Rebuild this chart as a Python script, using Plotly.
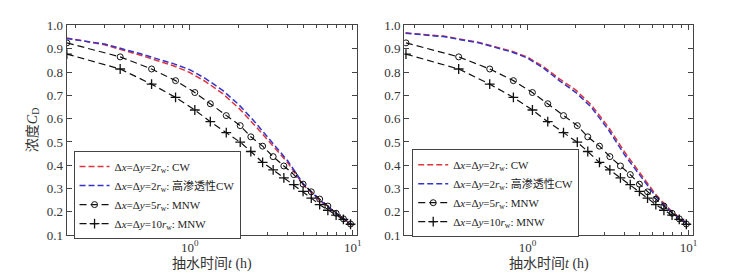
import plotly.graph_objects as go

# ---- data ----
t_cw = [0.175, 0.3, 0.5, 0.8, 1.0, 1.25, 1.6, 2.0, 2.5, 3.2, 4.0, 5.0, 6.3, 8.0, 10.0]
left_cw_red = [0.946, 0.917, 0.872, 0.826, 0.798, 0.759, 0.706, 0.645, 0.572, 0.487, 0.410, 0.314, 0.247, 0.190, 0.142]
left_cw_blue = [0.944, 0.920, 0.878, 0.835, 0.810, 0.772, 0.720, 0.660, 0.587, 0.498, 0.418, 0.318, 0.250, 0.192, 0.144]
right_cw_red = [0.968, 0.954, 0.927, 0.889, 0.864, 0.824, 0.768, 0.722, 0.658, 0.562, 0.458, 0.366, 0.272, 0.197, 0.147]
right_cw_blue = [0.966, 0.952, 0.925, 0.886, 0.860, 0.818, 0.760, 0.712, 0.648, 0.550, 0.446, 0.356, 0.264, 0.193, 0.146]

t_mnw = [0.176, 0.374, 0.583, 0.818, 1.074, 1.337, 1.675, 2.04, 2.37, 2.80, 3.25, 3.78,
         4.35, 4.96, 5.57, 6.27, 7.04, 7.91, 8.77, 9.7]
mnw5 = [0.925, 0.865, 0.813, 0.763, 0.712, 0.664, 0.613, 0.570, 0.522, 0.482, 0.437, 0.397,
        0.360, 0.319, 0.286, 0.255, 0.225, 0.194, 0.170, 0.148]
mnw10 = [0.877, 0.813, 0.748, 0.691, 0.637, 0.587, 0.540, 0.499, 0.459, 0.412, 0.380, 0.346,
         0.317, 0.288, 0.259, 0.231, 0.207, 0.186, 0.168, 0.147]

names = [
    "Δ<i>x</i>=Δ<i>y</i>=2<i>r</i><sub>w</sub>: CW",
    "Δ<i>x</i>=Δ<i>y</i>=2<i>r</i><sub>w</sub>: 高渗透性CW",
    "Δ<i>x</i>=Δ<i>y</i>=5<i>r</i><sub>w</sub>: MNW",
    "Δ<i>x</i>=Δ<i>y</i>=10<i>r</i><sub>w</sub>: MNW",
]
x_title = "抽水时间<i>t</i> (h)"
y_title = "浓度<i>C</i><sub>D</sub>"
x_tickvals = [1, 10]
x_ticktext = ["10<sup>0</sup>", "10<sup>1</sup>"]
minor_vals = [0.2, 0.3, 0.4, 0.5, 0.6, 0.7, 0.8, 0.9, 2, 3, 4, 5, 6, 7, 8, 9]
y_ticks = [0.1, 0.2, 0.3, 0.4, 0.5, 0.6, 0.7, 0.8, 0.9, 1.0]

RED = "#e0343c"
BLUE = "#3434c8"
SERIF = "Liberation Serif, Times New Roman, serif"
CJK = "Liberation Serif, Noto Sans CJK SC, serif"

fig = go.Figure()

panels = [
    ("x", "y", "legend", left_cw_red, left_cw_blue),
    ("x2", "y2", "legend2", right_cw_red, right_cw_blue),
]
for xa, ya, lg, red, blue in panels:
    fig.add_trace(go.Scatter(x=t_cw, y=red, mode="lines", name=names[0], xaxis=xa, yaxis=ya,
                             legend=lg, line=dict(color=RED, width=1.5, dash="6px,3px")))
    fig.add_trace(go.Scatter(x=t_cw, y=blue, mode="lines", name=names[1], xaxis=xa, yaxis=ya,
                             legend=lg, line=dict(color=BLUE, width=1.5, dash="6px,3px")))
    fig.add_trace(go.Scatter(x=t_mnw, y=mnw5, mode="lines+markers", name=names[2], xaxis=xa, yaxis=ya,
                             legend=lg, line=dict(color="#111", width=1.2, dash="7px,4px"),
                             marker=dict(symbol="circle-open", size=6, color="#111",
                                         line=dict(width=1.0, color="#111"))))
    fig.add_trace(go.Scatter(x=t_mnw, y=mnw10, mode="lines+markers", name=names[3], xaxis=xa, yaxis=ya,
                             legend=lg, line=dict(color="#111", width=1.2, dash="7px,4px"),
                             marker=dict(symbol="cross-thin", size=7, color="#111",
                                         line=dict(width=1.3, color="#111"))))

axis_common = dict(
    showline=True, linecolor="#444", linewidth=1.2, mirror="allticks",
    ticks="inside", tickcolor="#444", showgrid=False, zeroline=False,
    tickfont=dict(family=SERIF, size=13, color="#333"),
)

def xaxis(domain, rng, anchor):
    return dict(type="log", domain=domain, range=rng, tickmode="array", anchor=anchor,
                tickvals=x_tickvals, ticktext=x_ticktext, ticklen=5,
                minor=dict(tickmode="array", tickvals=minor_vals, ticks="inside", ticklen=3,
                           tickcolor="#444"),
                **axis_common)

def yaxis(domain, anchor):
    return dict(domain=domain, range=[0.1, 1.0], tickmode="array", tickvals=y_ticks,
                tickformat=".1f", ticklen=5, anchor=anchor, **axis_common)

legend_common = dict(xanchor="left", yanchor="top", bgcolor="white", bordercolor="#444",
                     borderwidth=1, font=dict(family=CJK, size=11, color="#222"),
                     tracegroupgap=0, itemwidth=30)

title_font = dict(family=CJK, size=14, color="#333")
ydom = [1 - 233 / 273, 1 - 11 / 273]
fig.update_layout(
    width=732, height=273,
    margin=dict(l=0, r=0, t=0, b=0),
    paper_bgcolor="white", plot_bgcolor="white",
    showlegend=True,
    xaxis=xaxis([59 / 732, 351 / 732], [-0.756, 1.024], "y"),
    xaxis2=xaxis([399 / 732, 690 / 732], [-0.765, 1.03], "y2"),
    yaxis=yaxis(ydom, "x"),
    yaxis2=yaxis(ydom, "x2"),
    legend=dict(x=66 / 732, y=1 - 144 / 273, **legend_common),
    legend2=dict(x=407 / 732, y=1 - 142 / 273, **legend_common),
    annotations=[
        dict(text=x_title, x=205 / 732, y=1 - 264 / 273, xref="paper", yref="paper",
             xanchor="center", yanchor="middle", showarrow=False, font=title_font),
        dict(text=x_title, x=545 / 732, y=1 - 264 / 273, xref="paper", yref="paper",
             xanchor="center", yanchor="middle", showarrow=False, font=title_font),
        dict(text=y_title, x=25 / 732, y=1 - 122 / 273, xref="paper", yref="paper",
             xanchor="center", yanchor="middle", showarrow=False, textangle=-90,
             font=title_font),
    ],
)

fig.write_html("out.html")
